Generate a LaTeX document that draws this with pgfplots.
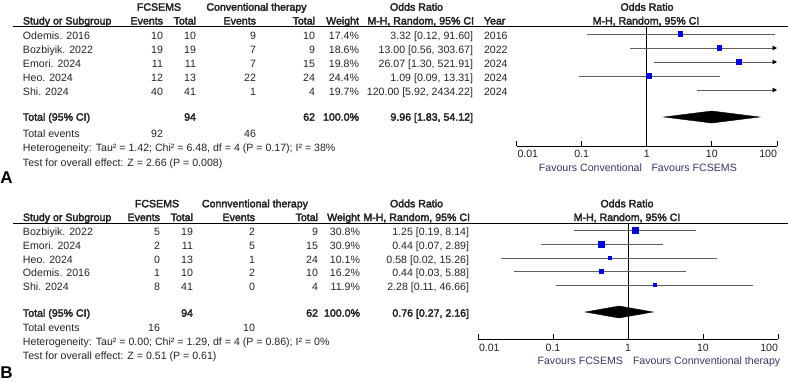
\documentclass[border=0pt]{standalone}
\usepackage{pgfplots}
\pgfplotsset{compat=1.18}
\usepackage{fontspec}
\setmainfont{Liberation Sans}[BoldFont=Liberation Sans, BoldFeatures={FakeBold=3}]
\newfontfamily\lbold{Liberation Sans Bold}
\usetikzlibrary{arrows.meta}
\definecolor{txt}{RGB}{35,35,35}
\definecolor{fav}{RGB}{55,55,100}
\definecolor{sq}{RGB}{0,0,225}
\definecolor{ci}{RGB}{95,95,95}
\newcommand{\fs}{\fontsize{10.6}{12}\selectfont}
\newcommand\Lt[3]{\node[anchor=base west] at (#1,#2) {#3};}
\newcommand\Rt[3]{\node[anchor=base east] at (#1,#2) {#3};}
\newcommand\Ct[3]{\node[anchor=base] at (#1,#2) {#3};}
\tikzset{arr/.style={ci, line width=0.9pt, -{Triangle[length=4.5pt,width=4.5pt,color=black]}}, cil/.style={ci, line width=0.9pt},
  sqm/.style={only marks, mark=square*, mark size=#1, color=sq, mark options={draw=sq, fill=sq, line width=0pt}}}
\begin{document}
\begin{tikzpicture}[x=1pt,y=-1pt, every node/.style={inner sep=0pt, outer sep=0pt, text=txt, font=\fs}]
\path[use as bounding box] (0,0) rectangle (788,381);
% ================= Panel A =================
\Ct{159}{10.7}{\bfseries FCSEMS}
\Ct{256.5}{10.7}{\bfseries Conventional therapy}
\Lt{390}{10.7}{\bfseries Odds Ratio}
\Ct{647}{10.7}{\bfseries Odds Ratio}
\Lt{23}{24.5}{\bfseries Study or Subgroup}
\Rt{163}{24.5}{\bfseries Events}
\Rt{196}{24.5}{\bfseries Total}
\Rt{256}{24.5}{\bfseries Events}
\Rt{315}{24.5}{\bfseries Total}
\Rt{359}{24.5}{\bfseries Weight}
\Rt{474}{24.5}{\bfseries M-H, Random, 95\% CI}
\Lt{484}{24.5}{\bfseries Year}
\Ct{646}{24.5}{\bfseries M-H, Random, 95\% CI}
\draw[line width=0.8pt, black] (13,26.5) -- (788,26.5);
% rows
\Lt{23}{39.5}{Odemis. 2016}\Rt{163}{39.5}{10}\Rt{196}{39.5}{10}\Rt{256}{39.5}{9}\Rt{315}{39.5}{10}\Rt{359}{39.5}{17.4\%}\Rt{473}{39.5}{3.32 [0.12, 91.60]}\Lt{484}{39.5}{2016}
\Lt{23}{53.5}{Bozbiyik. 2022}\Rt{163}{53.5}{19}\Rt{196}{53.5}{19}\Rt{256}{53.5}{7}\Rt{315}{53.5}{9}\Rt{359}{53.5}{18.6\%}\Rt{473}{53.5}{13.00 [0.56, 303.67]}\Lt{484}{53.5}{2022}
\Lt{23}{67.5}{Emori. 2024}\Rt{163}{67.5}{11}\Rt{196}{67.5}{11}\Rt{256}{67.5}{7}\Rt{315}{67.5}{15}\Rt{359}{67.5}{19.8\%}\Rt{473}{67.5}{26.07 [1.30, 521.91]}\Lt{484}{67.5}{2024}
\Lt{23}{81.5}{Heo. 2024}\Rt{163}{81.5}{12}\Rt{196}{81.5}{13}\Rt{256}{81.5}{22}\Rt{315}{81.5}{24}\Rt{359}{81.5}{24.4\%}\Rt{473}{81.5}{1.09 [0.09, 13.31]}\Lt{484}{81.5}{2024}
\Lt{23}{95.5}{Shi. 2024}\Rt{163}{95.5}{40}\Rt{196}{95.5}{41}\Rt{256}{95.5}{1}\Rt{315}{95.5}{4}\Rt{359}{95.5}{19.7\%}\Rt{473}{95.5}{120.00 [5.92, 2434.22]}\Lt{484}{95.5}{2024}
\Lt{23}{120.7}{\bfseries Total (95\% CI)}\Rt{196}{120.7}{\bfseries 94}\Rt{315}{120.7}{\bfseries 62}\Rt{359}{120.7}{\bfseries 100.0\%}\Rt{473}{120.7}{\bfseries 9.96 [1.83, 54.12]}
\Lt{23}{137.3}{Total events}\Rt{163}{137.3}{92}\Rt{256}{137.3}{46}
\Lt{23}{151}{Heterogeneity: Tau² = 1.42; Chi² = 6.48, df = 4 (P = 0.17); I² = 38\%}
\Lt{23}{166}{Test for overall effect: Z = 2.66 (P = 0.008)}
\node[anchor=base west, font=\fontsize{17}{20}\lbold, text=black] at (0.5,183.3) {A};
\Rt{642}{171.5}{\color{fav}Favours Conventional}
\Lt{651.5}{171.5}{\color{fav}Favours FCSEMS}
\begin{axis}[at={(516.5pt,-146pt)}, anchor=south west, scale only axis,
  width=260.5pt, height=120pt, xmode=log, xmin=0.01, xmax=100, ymin=-146, ymax=-26,
  axis y line=none, axis x line=bottom, axis line style={-}, x axis line style={-, black, line width=0.8pt},
  xtick={0.01,0.1,1,10,100}, xticklabels={{\makebox[0pt][l]{\hspace{1pt}0.01}},{0.1},{1},{10},{\makebox[0pt][r]{100}}},
  xminorticks=false, tick align=inside, major tick length=5pt, tick style={black, line width=0.8pt},
  clip=false, xticklabel style={anchor=base, inner sep=0pt, yshift=-11pt, font=\fs, text=txt}]
\addplot[black, line width=0.8pt] coordinates {(1,-26) (1,-146)};
\addplot[cil] coordinates {(0.12,-34) (91.60,-34)};
\addplot[arr] coordinates {(0.56,-48) (100,-48)};
\addplot[arr] coordinates {(1.30,-62) (100,-62)};
\addplot[cil] coordinates {(0.09,-76) (13.31,-76)};
\addplot[arr] coordinates {(5.92,-90) (100,-90)};
\addplot[sqm=2.2pt] coordinates {(3.32,-34)};
\addplot[sqm=2.25pt] coordinates {(13.00,-48)};
\addplot[sqm=2.3pt] coordinates {(26.07,-62)};
\addplot[sqm=2.8pt] coordinates {(1.09,-76)};
\addplot[fill=black, draw=black] coordinates {(1.83,-117) (9.96,-111) (54.12,-117) (9.96,-123)} -- cycle;
\end{axis}
% ================= Panel B =================
\Ct{157}{207.3}{\bfseries FCSEMS}
\Ct{255}{207.3}{\bfseries Connventional therapy}
\Lt{390}{207.3}{\bfseries Odds Ratio}
\Ct{627}{207.3}{\bfseries Odds Ratio}
\Lt{23}{221}{\bfseries Study or Subgroup}
\Rt{160}{221}{\bfseries Events}
\Rt{193}{221}{\bfseries Total}
\Rt{255}{221}{\bfseries Events}
\Rt{318}{221}{\bfseries Total}
\Rt{360}{221}{\bfseries Weight}
\Rt{470}{221}{\bfseries M-H, Random, 95\% CI}
\Ct{627}{221}{\bfseries M-H, Random, 95\% CI}
\draw[line width=0.8pt, black] (13,223.5) -- (788,223.5);
\Lt{23}{235.5}{Bozbiyik. 2022}\Rt{160}{235.5}{5}\Rt{193}{235.5}{19}\Rt{255}{235.5}{2}\Rt{318}{235.5}{9}\Rt{360}{235.5}{30.8\%}\Rt{469}{235.5}{1.25 [0.19, 8.14]}
\Lt{23}{249.5}{Emori. 2024}\Rt{160}{249.5}{2}\Rt{193}{249.5}{11}\Rt{255}{249.5}{5}\Rt{318}{249.5}{15}\Rt{360}{249.5}{30.9\%}\Rt{469}{249.5}{0.44 [0.07, 2.89]}
\Lt{23}{263.5}{Heo. 2024}\Rt{160}{263.5}{0}\Rt{193}{263.5}{13}\Rt{255}{263.5}{1}\Rt{318}{263.5}{24}\Rt{360}{263.5}{10.1\%}\Rt{469}{263.5}{0.58 [0.02, 15.26]}
\Lt{23}{276.5}{Odemis. 2016}\Rt{160}{276.5}{1}\Rt{193}{276.5}{10}\Rt{255}{276.5}{2}\Rt{318}{276.5}{10}\Rt{360}{276.5}{16.2\%}\Rt{469}{276.5}{0.44 [0.03, 5.88]}
\Lt{23}{290.5}{Shi. 2024}\Rt{160}{290.5}{8}\Rt{193}{290.5}{41}\Rt{255}{290.5}{0}\Rt{318}{290.5}{4}\Rt{360}{290.5}{11.9\%}\Rt{469}{290.5}{2.28 [0.11, 46.66]}
\Lt{23}{316.7}{\bfseries Total (95\% CI)}\Rt{193}{316.7}{\bfseries 94}\Rt{318}{316.7}{\bfseries 62}\Rt{360}{316.7}{\bfseries 100.0\%}\Rt{469}{316.7}{\bfseries 0.76 [0.27, 2.16]}
\Lt{23}{331.7}{Total events}\Rt{160}{331.7}{16}\Rt{255}{331.7}{10}
\Lt{23}{345.5}{Heterogeneity: Tau² = 0.00; Chi² = 1.29, df = 4 (P = 0.86); I² = 0\%}
\Lt{23}{359.5}{Test for overall effect: Z = 0.51 (P = 0.61)}
\node[anchor=base west, font=\fontsize{17}{20}\lbold, text=black] at (0.5,378.3) {B};
\Rt{623}{364}{\color{fav}Favours FCSEMS}
\Lt{633}{364}{\color{fav}Favours Connventional therapy}
\begin{axis}[at={(478pt,-339pt)}, anchor=south west, scale only axis,
  width=300pt, height=116pt, xmode=log, xmin=0.01, xmax=100, ymin=-339, ymax=-223,
  axis y line=none, axis x line=bottom, axis line style={-}, x axis line style={-, black, line width=0.8pt},
  xtick={0.01,0.1,1,10,100}, xticklabels={{\makebox[0pt][l]{\hspace{1pt}0.01}},{0.1},{1},{10},{\makebox[0pt][r]{100}}},
  xminorticks=false, tick align=inside, major tick length=5pt, tick style={black, line width=0.8pt},
  clip=false, xticklabel style={anchor=base, inner sep=0pt, yshift=-12pt, font=\fs, text=txt}]
\addplot[black, line width=0.8pt] coordinates {(1,-223) (1,-339)};
\addplot[cil] coordinates {(0.19,-230) (8.14,-230)};
\addplot[cil] coordinates {(0.07,-244) (2.89,-244)};
\addplot[cil] coordinates {(0.02,-258) (15.26,-258)};
\addplot[cil] coordinates {(0.03,-271) (5.88,-271)};
\addplot[cil] coordinates {(0.11,-285) (46.66,-285)};
\addplot[sqm=3.0pt] coordinates {(1.25,-230)};
\addplot[sqm=3.0pt] coordinates {(0.44,-244)};
\addplot[sqm=1.4pt] coordinates {(0.58,-258)};
\addplot[sqm=2.0pt] coordinates {(0.44,-271)};
\addplot[sqm=1.6pt] coordinates {(2.28,-285)};
\addplot[fill=black, draw=black] coordinates {(0.27,-312) (0.76,-306) (2.16,-312) (0.76,-318)} -- cycle;
\end{axis}
\end{tikzpicture}
\end{document}
